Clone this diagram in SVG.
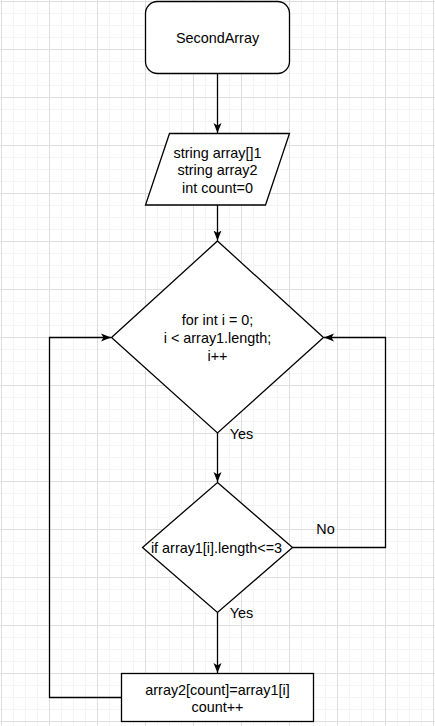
<svg xmlns="http://www.w3.org/2000/svg" width="435" height="726" viewBox="0 0 435 726">
<style>
.shape{fill:#ffffff;stroke:#000000;stroke-width:1.3}
.edge{fill:none;stroke:#000000;stroke-width:1.3}
text{font-family:"Liberation Sans",Arial,sans-serif;font-size:14.4px;fill:#000000;text-anchor:middle;dominant-baseline:central}
</style>
<defs>
<pattern id="grid" x="1" y="1" width="48" height="48" patternUnits="userSpaceOnUse">
<rect x="12" y="0" width="1" height="48" fill="#f4f4f4"/>
<rect x="24" y="0" width="1" height="48" fill="#f4f4f4"/>
<rect x="36" y="0" width="1" height="48" fill="#f4f4f4"/>
<rect x="0" y="12" width="48" height="1" fill="#f4f4f4"/>
<rect x="0" y="24" width="48" height="1" fill="#f4f4f4"/>
<rect x="0" y="36" width="48" height="1" fill="#f4f4f4"/>
<rect x="0" y="0" width="1" height="48" fill="#dedede"/>
<rect x="0" y="0" width="48" height="1" fill="#dedede"/>
</pattern>
<marker id="arrow" viewBox="0 0 10 10" refX="10" refY="5" markerWidth="10" markerHeight="10" markerUnits="userSpaceOnUse" orient="auto">
<path d="M0,1 L10,5 L0,9 L2.5,5 Z" fill="#000000"/>
</marker>
</defs>
<rect width="435" height="726" fill="#ffffff"/>
<rect width="435" height="726" fill="url(#grid)"/>

<g id="connectors">
<path class="edge" d="M217.5,73.5 L217.5,133" marker-end="url(#arrow)"/>
<path class="edge" d="M217.5,205 L217.5,240.5" marker-end="url(#arrow)"/>
<path class="edge" d="M217.5,433 L217.5,482" marker-end="url(#arrow)"/>
<path class="edge" d="M292.5,547.5 L385.5,547.5 L385.5,337.5 L324,337.5" marker-end="url(#arrow)"/>
<path class="edge" d="M217.5,612.5 L217.5,673" marker-end="url(#arrow)"/>
<path class="edge" d="M121.5,697.5 L49.5,697.5 L49.5,337.5 L111,337.5" marker-end="url(#arrow)"/>
<text x="241.5" y="433.5">Yes</text>
<text x="325.5" y="529">No</text>
<text x="241.5" y="613">Yes</text>
</g>

<g id="start">
<rect class="shape" x="145.5" y="1.5" width="144" height="72" rx="12" ry="12"/>
<text x="217.5" y="38">SecondArray</text>
</g>

<g id="input">
<polygon class="shape" points="169.5,133.5 289.5,133.5 265.5,205 145.5,205"/>
<text x="217.5" y="152.5">string array[]1</text>
<text x="217.5" y="170">string array2</text>
<text x="217.5" y="187.5">int count=0</text>
</g>

<g id="loop">
<polygon class="shape" points="217.5,241 323.5,337.5 217.5,433 111.5,337.5"/>
<text x="217.5" y="320">for int i = 0;</text>
<text x="217.5" y="337.5">i &lt; array1.length;</text>
<text x="217.5" y="355.5">i++</text>
</g>

<g id="condition">
<polygon class="shape" points="217.5,482.5 292.5,547.5 217.5,612.5 142.5,547.5"/>
<text x="216.5" y="547.5">if array1[i].length&lt;=3</text>
</g>

<g id="assign">
<rect class="shape" x="121.5" y="673.5" width="192" height="48"/>
<text x="217.5" y="689.5">array2[count]=array1[i]</text>
<text x="217.5" y="707">count++</text>
</g>
</svg>
